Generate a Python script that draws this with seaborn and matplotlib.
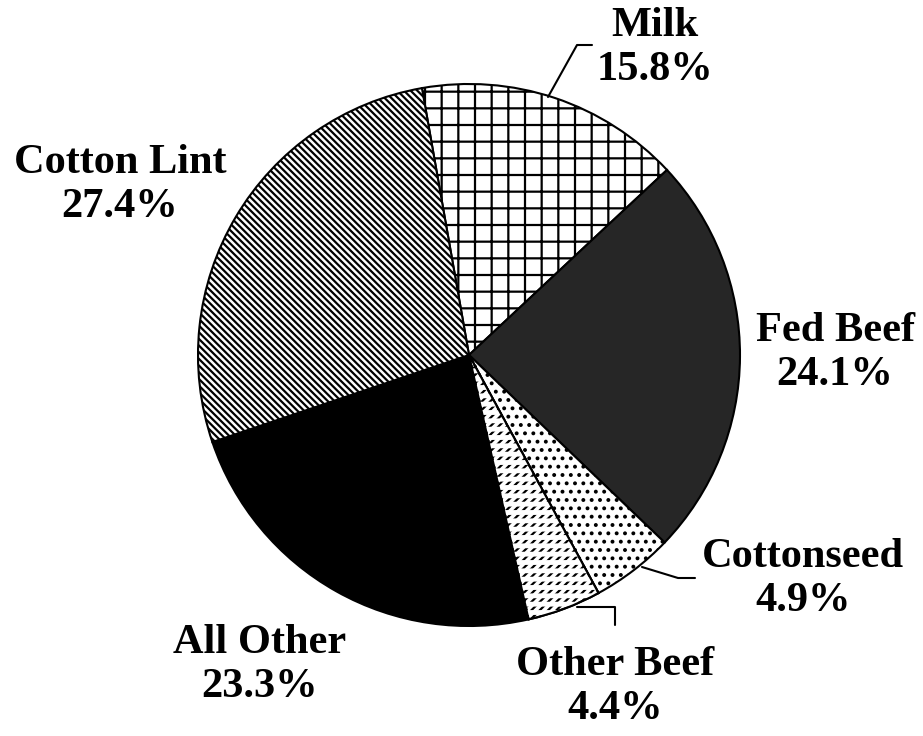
import matplotlib
matplotlib.use('Agg')
import seaborn as sns
from matplotlib import pyplot as plt
from matplotlib.patches import Wedge

sns.set_theme(style='white')
plt.rcParams['font.family'] = ['Liberation Serif', 'DejaVu Serif']

# share of cash receipts, clockwise from the top
products = ['Milk', 'Fed Beef', 'Cottonseed', 'Other Beef', 'All Other', 'Cotton Lint']
shares = [15.8, 24.1, 4.9, 4.4, 23.3, 27.4]

faces = ['white', '#262626', 'white', 'white', 'black', 'white']
hatches = ['+', None, '..', '////', None, '\\\\\\\\\\']

# label centres in pixel space (y measured from the top of the picture)
label_xy = [(655, 48), (835, 353), (803, 579), (615, 687), (260, 665), (120, 185)]

W, H = 923, 736
cx, cy, r = 469, H - 355, 271

fig = plt.figure(figsize=(9.23, 7.36), dpi=100)
ax = fig.add_axes([0, 0, 1, 1])

plt.rcParams['hatch.linewidth'] = 1.6
wedges, _ = ax.pie(shares, startangle=100, counterclock=False, center=(cx, cy),
                   radius=r, colors=faces, frame=True,
                   wedgeprops=dict(edgecolor='black', linewidth=1.5))
ax.set_xlim(0, W)
ax.set_ylim(0, H)
ax.set_aspect('equal')
ax.axis('off')
for w, h in zip(wedges, hatches):
    if h:
        w.set_hatch(h)

# break the diagonal hatch of Other Beef into short strokes
ob = wedges[products.index('Other Beef')]
plt.rcParams['hatch.linewidth'] = 3.5
cut = Wedge((cx, cy), r, ob.theta1, ob.theta2, facecolor='none',
            edgecolor='white', linewidth=0, hatch='--')
ax.add_patch(cut)
ax.add_patch(Wedge((cx, cy), r, ob.theta1, ob.theta2, facecolor='none',
                   edgecolor='black', linewidth=1.5))

for name, share, (lx, ly) in zip(products, shares, label_xy):
    ax.text(lx, H - ly, f'{name}\n{share:.1f}%', ha='center', va='center',
            fontsize=30.5, fontweight='bold', linespacing=1.2, color='black')

# leader lines
leaders = [
    [(548, 97), (577, 45), (592, 45)],
    [(642, 567), (678, 578), (695, 578)],
    [(577, 607), (615, 607), (615, 625)],
]
for pts in leaders:
    xs = [p[0] for p in pts]
    ys = [H - p[1] for p in pts]
    ax.plot(xs, ys, color='black', linewidth=1.5)

fig.savefig('out.png', dpi=100, facecolor='white')
